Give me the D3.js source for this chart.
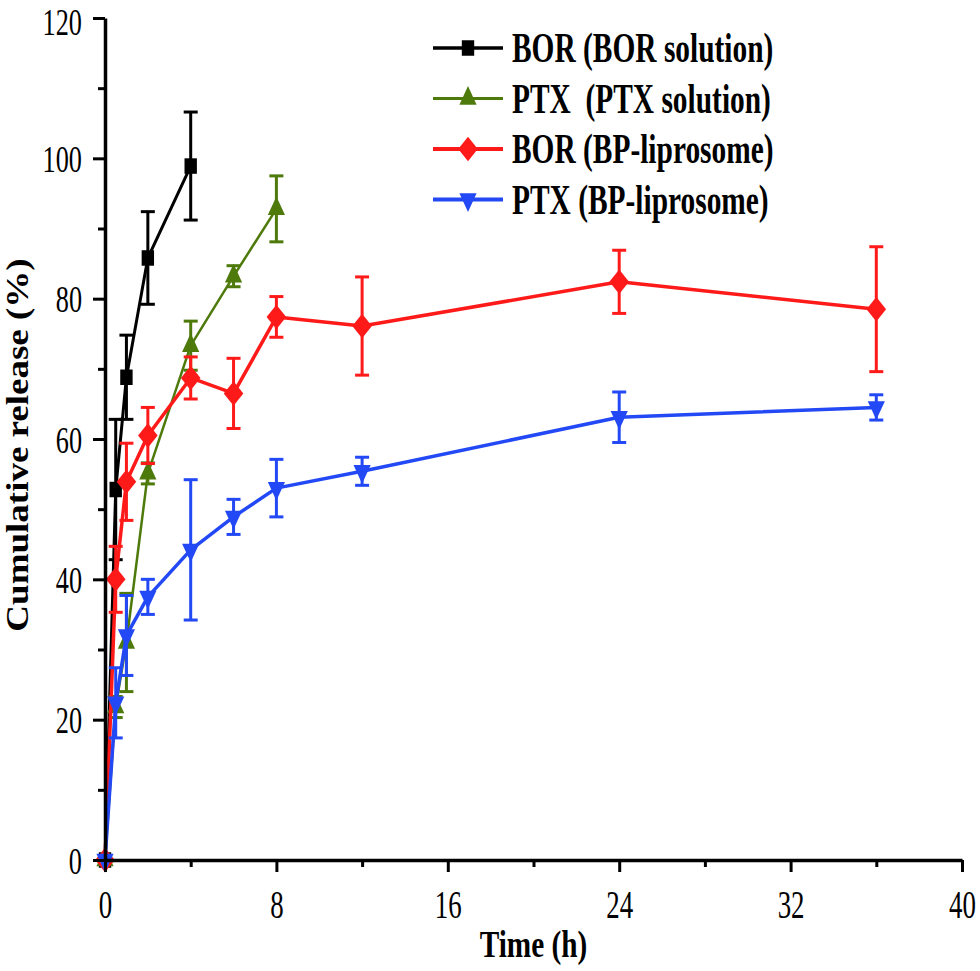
<!DOCTYPE html>
<html>
<head>
<meta charset="utf-8">
<script src="https://cdn.jsdelivr.net/npm/d3@7"></script>
<style>
  body { margin: 0; background: #fff; }
  text { font-family: "Liberation Serif", "Times New Roman", serif; white-space: pre; }
</style>
</head>
<body>
<svg id="svg1" width="980" height="971"></svg>
<script>
// data
var tSol = [0, 0.5, 1, 2, 4];
var borSol = [0, 52.8, 68.8, 85.8, 98.9];
var borSolErr = [0, 10, 6, 6.6, 7.7];

var tPtxSol = [0, 0.5, 1, 2, 4, 6, 8];
var ptxSol = [0, 21.8, 31, 55.1, 73.3, 83.2, 92.8];
var ptxSolErr = [0, 1.5, 7, 1.5, 3.5, 1.5, 4.7];

var tLip = [0, 0.5, 1, 2, 4, 6, 8, 12, 24, 36];
var borLip = [0, 40, 53.9, 60.5, 68.7, 66.5, 77.4, 76.1, 82.4, 78.5];
var borLipErr = [0, 4.7, 5.5, 4, 3, 5, 2.9, 7, 4.5, 8.9];
var ptxLip = [0, 22.4, 32, 37.5, 44.2, 48.9, 53, 55.4, 63.1, 64.5];
var ptxLipErr = [0, 5, 5.7, 2.5, 10, 2.5, 4.1, 2, 3.6, 1.8];

var seriesNames = ["BOR (BOR solution)", "PTX  (PTX solution)", "BOR (BP-liprosome)", "PTX (BP-liprosome)"];
var xTicks = [0, 8, 16, 24, 32, 40];
var xMinor = [4, 12, 20, 28, 36];
var yTicks = [0, 20, 40, 60, 80, 100, 120];
var yMinor = [10, 30, 50, 70, 90, 110];

var sx = 0.69; // the figure's text is horizontally narrow

var series = [
  {name: seriesNames[0], t: tSol, v: borSol, e: borSolErr, color: "#000000", sym: d3.symbolSquare, size: 240, rot: 0, lw: 3},
  {name: seriesNames[1], t: tPtxSol, v: ptxSol, e: ptxSolErr, color: "#4e7a0c", sym: d3.symbolTriangle, size: 200, rot: 0, lw: 2.5},
  {name: seriesNames[2], t: tLip, v: borLip, e: borLipErr, color: "#ff1a1a", sym: d3.symbolSquare, size: 300, rot: 45, lw: 3.5},
  {name: seriesNames[3], t: tLip, v: ptxLip, e: ptxLipErr, color: "#2249f5", sym: d3.symbolTriangle, size: 200, rot: 180, lw: 3.5}
];

var svg = d3.select("#svg1"),
  margin = {top: 18, right: 18, bottom: 111, left: 105},
  width = +svg.attr("width") - margin.left - margin.right,
  height = +svg.attr("height") - margin.top - margin.bottom,
  g = svg.append("g").attr("transform", "translate(" + margin.left + "," + margin.top + ")");

var x = d3.scaleLinear().domain([0, 40]).range([0, width]);
var y = d3.scaleLinear().domain([0, 120]).range([height, 0]);

var line = d3.line()
  .x(function(d) { return x(d.t); })
  .y(function(d) { return y(d.v); });

function markTransform(px, py, s) {
  return "translate(" + px + "," + py + ") scale(0.8,1) rotate(" + s.rot + ")";
}

// series
series.forEach(function(s) {
  var pts = s.t.map(function(t, i) { return {t: t, v: s.v[i], e: s.e[i]}; });
  var sg = g.append("g");
  sg.append("path")
    .datum(pts)
    .attr("fill", "none")
    .attr("stroke", s.color)
    .attr("stroke-width", s.lw)
    .attr("stroke-linejoin", "round")
    .attr("d", line);
  var eb = sg.selectAll(".err").data(pts.filter(function(d) { return d.e > 0; })).enter().append("g");
  eb.append("line")
    .attr("x1", function(d) { return x(d.t); })
    .attr("x2", function(d) { return x(d.t); })
    .attr("y1", function(d) { return y(d.v - d.e); })
    .attr("y2", function(d) { return y(d.v + d.e); });
  eb.append("line")
    .attr("x1", function(d) { return x(d.t) - 7; })
    .attr("x2", function(d) { return x(d.t) + 7; })
    .attr("y1", function(d) { return y(d.v + d.e); })
    .attr("y2", function(d) { return y(d.v + d.e); });
  eb.append("line")
    .attr("x1", function(d) { return x(d.t) - 7; })
    .attr("x2", function(d) { return x(d.t) + 7; })
    .attr("y1", function(d) { return y(d.v - d.e); })
    .attr("y2", function(d) { return y(d.v - d.e); });
  eb.selectAll("line").attr("stroke", s.color).attr("stroke-width", 3);
  sg.selectAll(".mk").data(pts).enter().append("path")
    .attr("d", d3.symbol().type(s.sym).size(s.size))
    .attr("fill", s.color)
    .attr("transform", function(d) { return markTransform(x(d.t), y(d.v), s); });
});

// axes
function styleAxis(a) {
  a.select(".domain").attr("stroke-width", 3.5);
  a.selectAll(".tick line").attr("stroke-width", 3);
}
var yAx = g.append("g")
  .call(d3.axisLeft(y).tickValues(yTicks).tickSize(12).tickSizeOuter(0).tickPadding(0));
styleAxis(yAx);
yAx.selectAll("text")
  .attr("font-size", 37)
  .attr("font-family", "Liberation Serif")
  .attr("fill", "#000")
  .attr("dy", function(d) { return d === 120 ? "0.44em" : "0.36em"; })
  .attr("x", -23 / 0.71)
  .attr("transform", "scale(0.71,1)");
var yMin = g.append("g")
  .call(d3.axisLeft(y).tickValues(yMinor).tickSize(7).tickSizeOuter(0).tickFormat(""));
styleAxis(yMin);
yMin.select(".domain").remove();

var xAx = g.append("g")
  .attr("transform", "translate(0," + height + ")")
  .call(d3.axisBottom(x).tickValues(xTicks).tickSize(12).tickSizeOuter(0).tickPadding(0));
styleAxis(xAx);
xAx.selectAll(".tick text")
  .attr("font-size", 39)
  .attr("font-family", "Liberation Serif")
  .attr("fill", "#000")
  .attr("y", 58)
  .attr("dy", 0)
  .attr("transform", "scale(" + sx + ",1)");
var xMin = g.append("g")
  .attr("transform", "translate(0," + height + ")")
  .call(d3.axisBottom(x).tickValues(xMinor).tickSize(7).tickSizeOuter(0).tickFormat(""));
styleAxis(xMin);
xMin.select(".domain").remove();

// axis titles
g.append("text")
  .attr("transform", "translate(" + (width / 2) + "," + (height + 97) + ") scale(0.77,1)")
  .attr("text-anchor", "middle")
  .attr("font-size", 38)
  .attr("font-weight", "bold")
  .text("Time (h)");
g.append("text")
  .attr("transform", "translate(-77," + 427 + ") rotate(-90) scale(1,0.86)")
  .attr("text-anchor", "middle")
  .attr("font-size", 37)
  .attr("font-weight", "bold")
  .text("Cumulative release (%)");

// legend
var leg = svg.append("g").attr("transform", "translate(433,48)");
series.forEach(function(s, i) {
  var row = leg.append("g").attr("transform", "translate(0," + (i * 50.5) + ")");
  row.append("line").attr("x1", 0).attr("x2", 70).attr("y1", 0).attr("y2", 0)
    .attr("stroke", s.color).attr("stroke-width", s.lw + 0.5);
  row.append("path")
    .attr("d", d3.symbol().type(s.sym).size(s.size))
    .attr("fill", s.color)
    .attr("transform", markTransform(35, 0, s));
  row.append("text")
    .attr("transform", "translate(79,14) scale(0.7,1)")
    .attr("font-size", 42)
    .attr("font-weight", "bold")
    .text(s.name);
});
</script>
</body>
</html>
